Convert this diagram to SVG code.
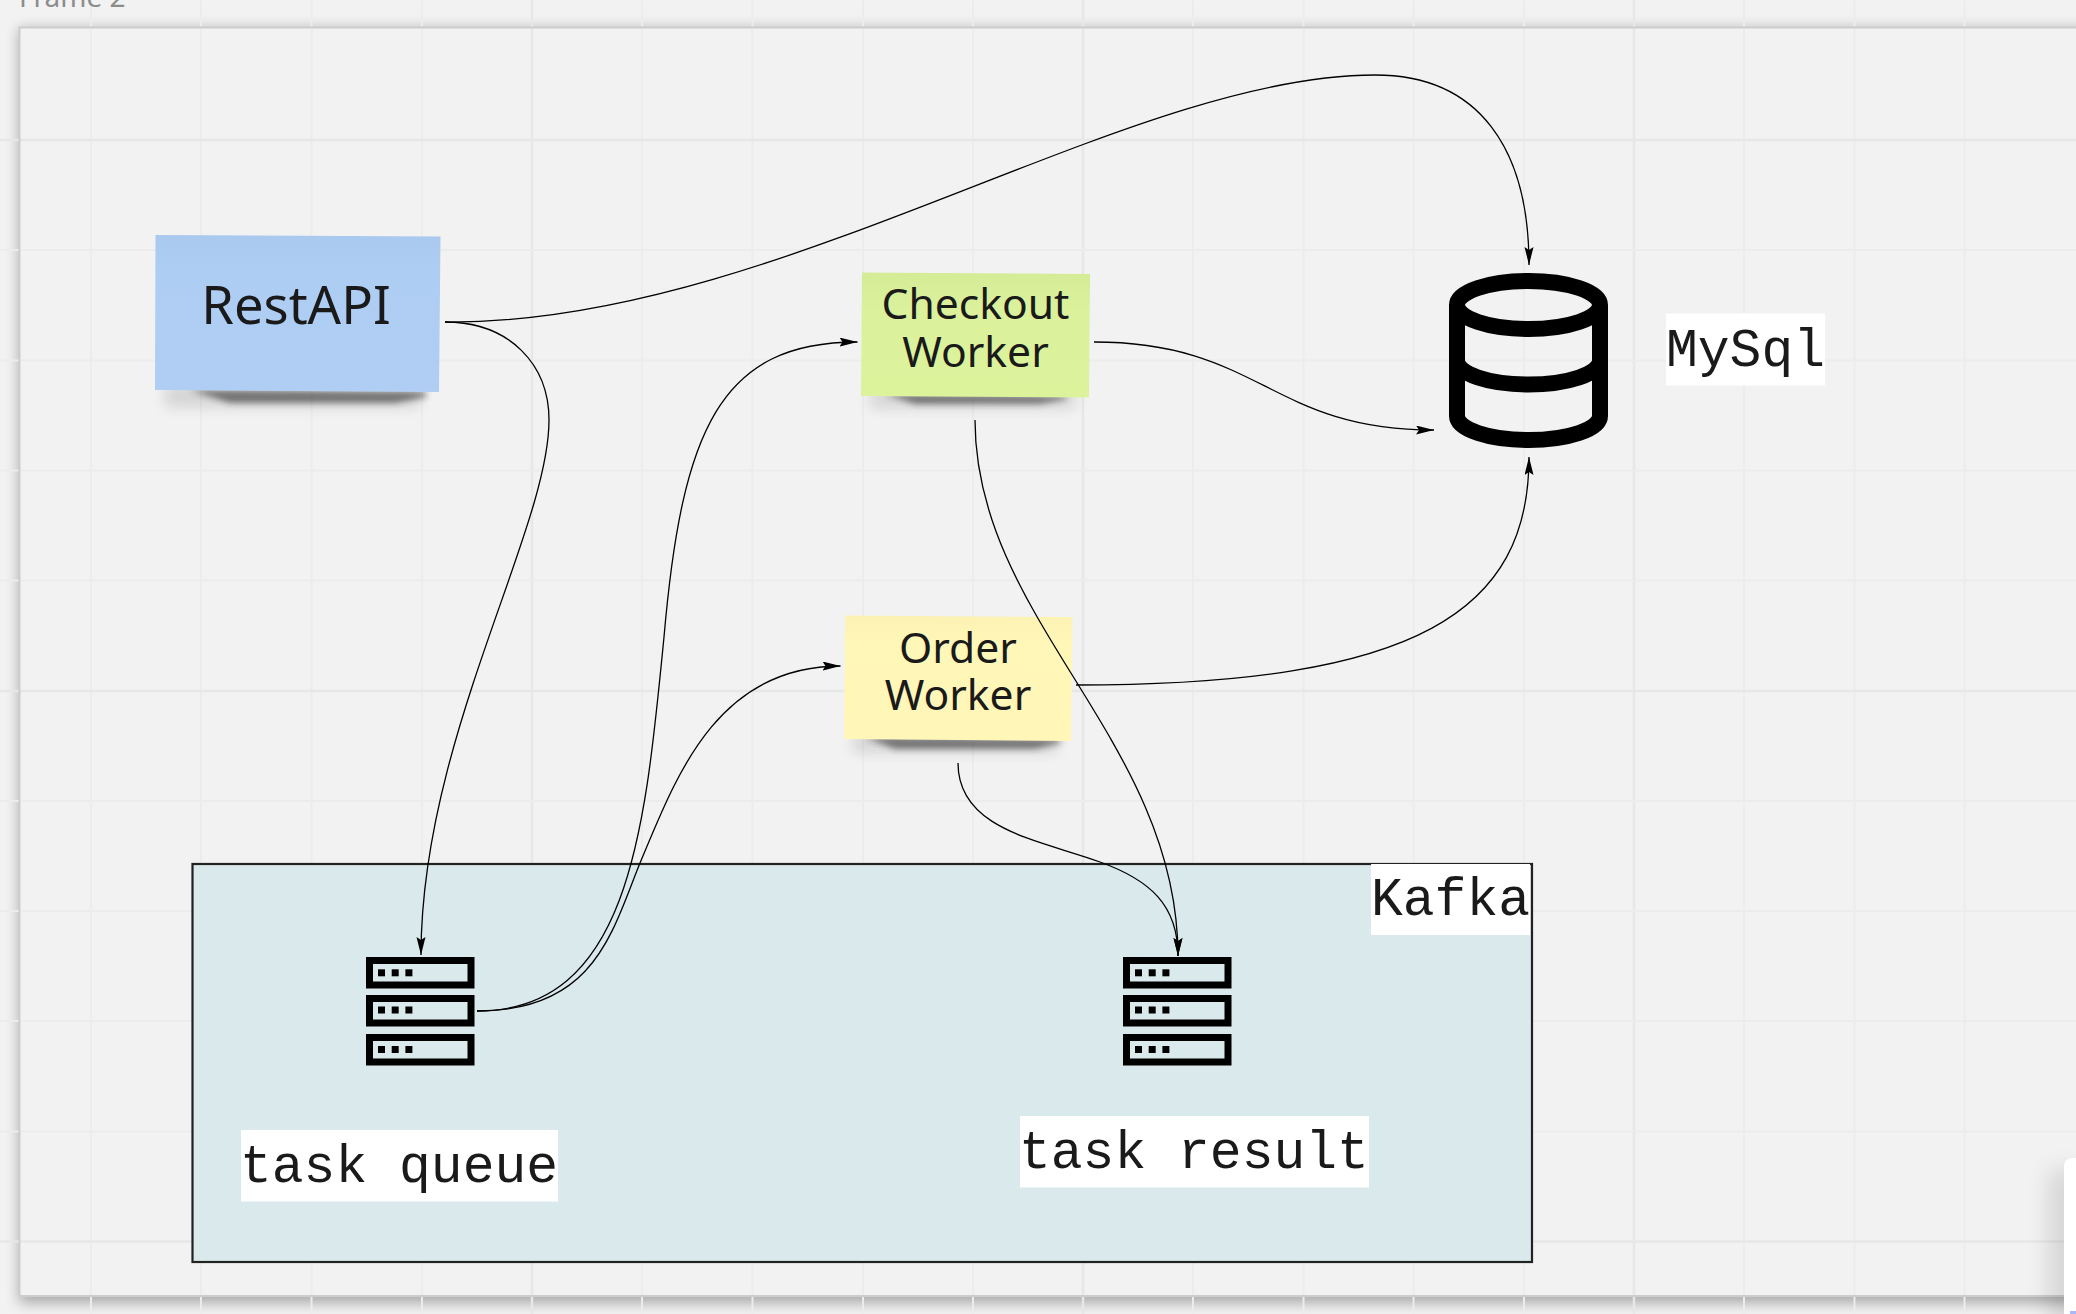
<svg xmlns="http://www.w3.org/2000/svg" width="2076" height="1314" viewBox="0 0 2076 1314">
<style>
.grid line{stroke:#ececec;stroke-width:2}
.grid line.maj{stroke:#e7e7e7;stroke-width:2.5}
.sticky{font-family:"Noto Sans","Open Sans",sans-serif;fill:#1a1a1a;text-anchor:middle}
.mono{font-family:"Liberation Mono","DejaVu Sans Mono",monospace;font-size:53px;fill:#1a1a1a}
.lbl{fill:#fff}
.wire{fill:none;stroke:#000;stroke-width:1.3;marker-end:url(#arrow)}
.srv rect.r{fill:none;stroke:#000;stroke-width:7}
.srv rect.d{fill:#000}
.sh1{fill:#222;opacity:.55;filter:url(#b3)}
.sh2{fill:#000;opacity:.12;filter:url(#b8)}
</style>
<defs>
<filter id="b3" x="-20%" y="-200%" width="140%" height="500%"><feGaussianBlur stdDeviation="3.2"/></filter>
<filter id="b8" x="-20%" y="-200%" width="140%" height="500%"><feGaussianBlur stdDeviation="7"/></filter>
<filter id="bf" x="-5%" y="-5%" width="110%" height="110%"><feGaussianBlur stdDeviation="7"/></filter>
<filter id="bp" x="-200%" y="-30%" width="500%" height="160%"><feGaussianBlur stdDeviation="12"/></filter>
<marker id="arrow" markerUnits="userSpaceOnUse" markerWidth="20" markerHeight="10" refX="18" refY="4.5" orient="auto"><path d="M0 0L18 4.5L0 9L3 4.5Z" fill="#000"/></marker>
<linearGradient id="gb" x1="0" y1="0" x2="0" y2="1"><stop offset="0" stop-color="#a9c9ee"/><stop offset=".25" stop-color="#aecdf3"/><stop offset="1" stop-color="#b0cef4"/></linearGradient>
<linearGradient id="gg" x1="0" y1="0" x2="0" y2="1"><stop offset="0" stop-color="#d5ec96"/><stop offset=".3" stop-color="#dbf19b"/><stop offset="1" stop-color="#dcf39c"/></linearGradient>
<linearGradient id="gy" x1="0" y1="0" x2="0" y2="1"><stop offset="0" stop-color="#fbf2b4"/><stop offset=".25" stop-color="#fff7b8"/><stop offset="1" stop-color="#fff6b8"/></linearGradient>
</defs>
<rect width="2076" height="1314" fill="#f2f2f2"/>
<rect id="frame-shadow" x="19" y="29" width="2100" height="1274" fill="#000" opacity=".3" filter="url(#bf)"/>
<rect id="frame-bg" x="19" y="27.5" width="2100" height="1268.5" fill="#f2f2f2"/>
<g class="grid">
<line class="maj" x1="532" y1="0" x2="532" y2="1314"/><line class="maj" x1="1083" y1="0" x2="1083" y2="1314"/><line class="maj" x1="1634" y1="0" x2="1634" y2="1314"/>
<line x1="91" y1="0" x2="91" y2="1314"/><line x1="201" y1="0" x2="201" y2="1314"/><line x1="311.5" y1="0" x2="311.5" y2="1314"/><line x1="422" y1="0" x2="422" y2="1314"/><line x1="642" y1="0" x2="642" y2="1314"/><line x1="752.5" y1="0" x2="752.5" y2="1314"/><line x1="863" y1="0" x2="863" y2="1314"/><line x1="973" y1="0" x2="973" y2="1314"/><line x1="1193" y1="0" x2="1193" y2="1314"/><line x1="1303.5" y1="0" x2="1303.5" y2="1314"/><line x1="1413.5" y1="0" x2="1413.5" y2="1314"/><line x1="1524" y1="0" x2="1524" y2="1314"/><line x1="1744" y1="0" x2="1744" y2="1314"/><line x1="1854.5" y1="0" x2="1854.5" y2="1314"/><line x1="1964.5" y1="0" x2="1964.5" y2="1314"/>
<line class="maj" x1="0" y1="140" x2="2076" y2="140"/><line x1="0" y1="250" x2="2076" y2="250"/><line x1="0" y1="360.5" x2="2076" y2="360.5"/><line x1="0" y1="470.5" x2="2076" y2="470.5"/><line x1="0" y1="580.5" x2="2076" y2="580.5"/><line class="maj" x1="0" y1="691" x2="2076" y2="691"/><line x1="0" y1="801" x2="2076" y2="801"/><line x1="0" y1="911" x2="2076" y2="911"/><line x1="0" y1="1021" x2="2076" y2="1021"/><line x1="0" y1="1131.5" x2="2076" y2="1131.5"/><line class="maj" x1="0" y1="1241.5" x2="2076" y2="1241.5"/>
</g>
<path id="frame-edge" d="M19.5 1296V27.5H2076M19.5 1296H2076" fill="none" stroke="#cdcdcd" stroke-width="2"/>
<text id="frame-label" x="19" y="7" font-family="'Noto Sans','Open Sans',sans-serif" font-size="28" fill="#8c8c8c">Frame 2</text>

<g id="kafka">
<rect x="192.5" y="864" width="1339.5" height="398" fill="#dae9ec" stroke="#222" stroke-width="2.2"/>
<rect class="lbl" x="1371" y="864" width="159" height="71"/>
<text class="mono" x="1371" y="915">Kafka</text>
</g>
<g id="task-queue">
<g class="srv">
<rect class="r" x="369.5" y="960.5" width="101.5" height="24.5"/><rect class="r" x="369.5" y="998.5" width="101.5" height="24.5"/><rect class="r" x="369.5" y="1037.5" width="101.5" height="24.5"/>
<rect class="d" x="378" y="969.3" width="7" height="7"/><rect class="d" x="391.7" y="969.3" width="7" height="7"/><rect class="d" x="405.4" y="969.3" width="7" height="7"/>
<rect class="d" x="378" y="1006.5" width="7" height="7"/><rect class="d" x="391.7" y="1006.5" width="7" height="7"/><rect class="d" x="405.4" y="1006.5" width="7" height="7"/>
<rect class="d" x="378" y="1046" width="7" height="7"/><rect class="d" x="391.7" y="1046" width="7" height="7"/><rect class="d" x="405.4" y="1046" width="7" height="7"/>
</g>
<rect class="lbl" x="241" y="1130" width="317" height="71.5"/>
<text class="mono" x="240" y="1182">task queue</text>
</g>
<g id="task-result">
<g class="srv" transform="translate(757 0)">
<rect class="r" x="369.5" y="960.5" width="101.5" height="24.5"/><rect class="r" x="369.5" y="998.5" width="101.5" height="24.5"/><rect class="r" x="369.5" y="1037.5" width="101.5" height="24.5"/>
<rect class="d" x="378" y="969.3" width="7" height="7"/><rect class="d" x="391.7" y="969.3" width="7" height="7"/><rect class="d" x="405.4" y="969.3" width="7" height="7"/>
<rect class="d" x="378" y="1006.5" width="7" height="7"/><rect class="d" x="391.7" y="1006.5" width="7" height="7"/><rect class="d" x="405.4" y="1006.5" width="7" height="7"/>
<rect class="d" x="378" y="1046" width="7" height="7"/><rect class="d" x="391.7" y="1046" width="7" height="7"/><rect class="d" x="405.4" y="1046" width="7" height="7"/>
</g>
<rect class="lbl" x="1020" y="1116" width="349" height="71.5"/>
<text class="mono" x="1019" y="1168">task result</text>
</g>
<g id="mysql">
<g fill="none" stroke="#000" stroke-width="16">
<ellipse cx="1528.5" cy="305" rx="71.5" ry="24"/>
<path d="M1457 305V416A71.5 24 0 0 0 1600 416V305"/>
<path d="M1457 360.5A71.5 24 0 0 0 1600 360.5"/>
</g>
<rect class="lbl" x="1666" y="313.5" width="159" height="72"/>
<text class="mono" x="1666" y="366">MySql</text>
</g>
<g id="restapi">
<rect class="sh2" x="165" y="385" width="255" height="22"/>
<path class="sh1" d="M190 390L426 392V397L395 403H230Z"/>
<path d="M155.5 235L440.5 236.5L439 392L155 390Z" fill="url(#gb)"/>
<text class="sticky" x="296" y="324" font-size="52.5">RestAPI</text>
</g>
<g id="checkout-worker">
<rect class="sh2" x="870" y="390" width="205" height="18"/>
<path class="sh1" d="M885 394L1066 396V399L1040 404H915Z"/>
<path d="M862 272.5L1090 274L1089 397.5L861 396Z" fill="url(#gg)"/>
<text class="sticky" x="975.5" y="319" font-size="42.6">Checkout<tspan x="975.5" dy="48">Worker</tspan></text>
</g>
<g id="order-worker">
<rect class="sh2" x="853" y="734" width="205" height="18"/>
<path class="sh1" d="M865 737L1060 739V743L1035 749H895Z"/>
<path d="M845 615.5L1072.5 617L1071 741L844 739Z" fill="url(#gy)"/>
<text class="sticky" x="958" y="663" font-size="42.6">Order<tspan x="958" dy="47">Worker</tspan></text>
</g>
<g id="connectors">
<path class="wire" d="M445 322C775 325 1125 75 1375 75C1480 75 1529 150 1529 265"/>
<path class="wire" d="M445 322C510 322 549 365 549 420C549 530 421 740 421 955"/>
<path class="wire" d="M477 1011C630 1011 645 830 664 637C682 430 720 342 857.5 342"/>
<path class="wire" d="M477 1011C595 1011 612 932 640 863C675 780 715 666 840.5 666"/>
<path class="wire" d="M1094 342C1260 342 1270 430 1434 430"/>
<path class="wire" d="M975 420C975 620 1178 740 1178 956"/>
<path class="wire" d="M1076 685C1420 685 1529 610 1529 457"/>
<path class="wire" d="M958 763C958 830 1040 840 1100 862C1150 880 1178 905 1178 956"/>
</g>
<g id="panel">
<rect x="2050" y="1170" width="30" height="160" fill="#000" opacity=".13" filter="url(#bp)"/>
<rect x="2064" y="1158" width="30" height="170" rx="8" fill="#fff"/>
<rect x="2070" y="1311" width="6" height="3" fill="#a9b9f5"/>
</g>
</svg>
